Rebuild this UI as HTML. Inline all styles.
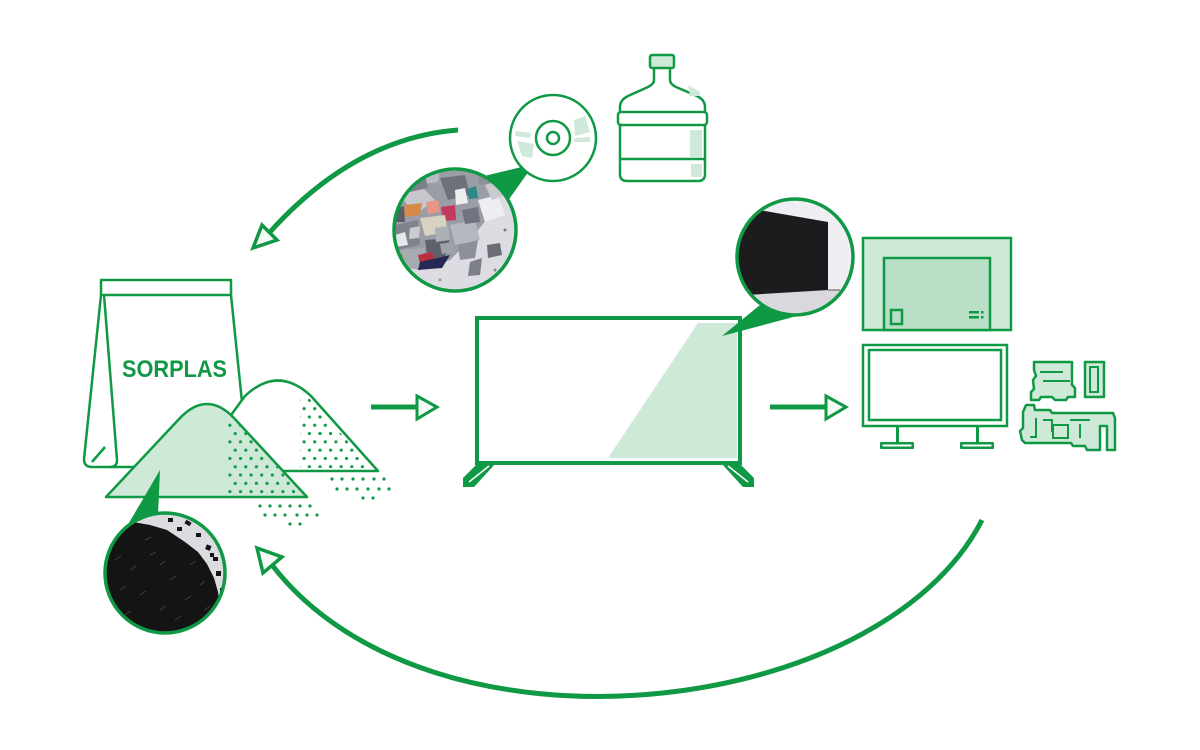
<!DOCTYPE html>
<html><head><meta charset="utf-8"><style>
html,body{margin:0;padding:0;background:#fff;}
svg{display:block;}
</style></head><body>
<svg width="1200" height="750" viewBox="0 0 1200 750" xmlns="http://www.w3.org/2000/svg">
<defs>
<pattern id="dots" x="0" y="0" width="10.6" height="16.6" patternUnits="userSpaceOnUse">
<circle cx="2" cy="2" r="1.6" fill="#109944"/>
<circle cx="7.3" cy="10.3" r="1.6" fill="#109944"/>
</pattern>
<clipPath id="frontClip"><path d="M110,494 L182,417 Q207,392 232,417 L302,494 Z"/></clipPath>
<clipPath id="backClip"><path d="M195,468 L247,398 Q278,369 309,398 L372,468 Z"/></clipPath>
<clipPath id="shredClip"><circle cx="455" cy="230" r="61"/></clipPath>
<clipPath id="pelClip"><circle cx="165" cy="573" r="60"/></clipPath>
<clipPath id="tvClip"><circle cx="795" cy="257" r="58"/></clipPath>
</defs>

<!-- top arrow -->
<path d="M458,130 Q355,138 270,232" fill="none" stroke="#109944" stroke-width="5"/>
<polygon points="253,248 262,225 277,240" fill="#f4faf6" stroke="#109944" stroke-width="3.5" stroke-linejoin="miter"/>

<!-- bottom arc arrow -->
<path d="M982,520 C880,720 430,770 272,565" fill="none" stroke="#109944" stroke-width="5"/>
<polygon points="257,548 282,557 263,573" fill="#f4faf6" stroke="#109944" stroke-width="3.5"/>

<!-- bag -->
<g fill="none" stroke="#109944" stroke-width="2.5" stroke-linejoin="round">
<rect x="101" y="280" width="130" height="15" fill="#fff"/>
<path d="M101,295 L84,459 Q84,467 92,467 L140,467"/>
<path d="M104,295 L117,460 Q117,467 110,467"/>
<path d="M231,295 L242,402"/>
<path d="M92,462 L105,447"/>
</g>
<text x="122" y="377" font-family="'Liberation Sans', sans-serif" font-weight="bold" font-size="24" fill="#109944" textLength="105" lengthAdjust="spacingAndGlyphs">SORPLAS</text>

<!-- back mound -->
<path d="M190,471 L245,396 Q278,365 311,396 L378,471 Z" fill="#fff" stroke="#109944" stroke-width="2.5" stroke-linejoin="round"/>
<g clip-path="url(#backClip)"><rect x="300" y="380" width="90" height="95" fill="url(#dots)"/></g>

<!-- front mound -->
<path d="M106,497 L180,418 Q207,390 234,418 L307,497 Z" fill="#cfe9d8" stroke="#109944" stroke-width="2.5" stroke-linejoin="round"/>
<g clip-path="url(#frontClip)"><rect x="228" y="418" width="90" height="80" fill="url(#dots)"/></g>

<!-- spill dots -->
<g fill="#109944">
<circle cx="332" cy="479" r="1.6"/><circle cx="342" cy="479" r="1.6"/><circle cx="353" cy="479" r="1.6"/><circle cx="363" cy="479" r="1.6"/><circle cx="374" cy="479" r="1.6"/><circle cx="384" cy="479" r="1.6"/>
<circle cx="337" cy="489" r="1.6"/><circle cx="347" cy="489" r="1.6"/><circle cx="357" cy="489" r="1.6"/><circle cx="368" cy="489" r="1.6"/><circle cx="379" cy="489" r="1.6"/><circle cx="389" cy="489" r="1.6"/>
<circle cx="363" cy="498" r="1.6"/><circle cx="373" cy="498" r="1.6"/>
<circle cx="260" cy="506" r="1.6"/><circle cx="270" cy="506" r="1.6"/><circle cx="280" cy="506" r="1.6"/><circle cx="290" cy="506" r="1.6"/><circle cx="300" cy="506" r="1.6"/><circle cx="310" cy="506" r="1.6"/>
<circle cx="265" cy="515" r="1.6"/><circle cx="275" cy="515" r="1.6"/><circle cx="285" cy="515" r="1.6"/><circle cx="297" cy="515" r="1.6"/><circle cx="307" cy="515" r="1.6"/><circle cx="317" cy="515" r="1.6"/>
<circle cx="290" cy="524" r="1.6"/><circle cx="300" cy="524" r="1.6"/>
</g>

<!-- pellets wedge + circle -->
<polygon points="160,470 126,528 158,515" fill="#109944"/>
<g clip-path="url(#pelClip)">
<rect x="100" y="510" width="130" height="130" fill="#dcdce0"/>
<path d="M100,540 L108,536 L118,530 L133,522 L150,525 L167,530 L185,542 L198,552 L207,564 L214,578 L218,592 L221,612 L226,640 L100,640 Z" fill="#141414"/>
<g fill="#141414">
<rect x="135" y="516" width="6" height="4" transform="rotate(20 138 518)"/>
<rect x="168" y="518" width="5" height="4"/>
<rect x="185" y="521" width="6" height="4" transform="rotate(30 188 523)"/>
<rect x="196" y="533" width="5" height="4"/>
<rect x="206" y="545" width="5" height="5" transform="rotate(20 208 547)"/>
<rect x="213" y="557" width="5" height="4"/>
<rect x="216" y="571" width="5" height="5"/>
<rect x="220" y="588" width="5" height="4"/>
<rect x="210" y="553" width="4" height="4"/>
<rect x="177" y="527" width="5" height="4"/>
</g>
<g stroke="#4a4a4e" stroke-width="1" opacity="0.8">
<line x1="115" y1="560" x2="121" y2="556"/><line x1="130" y1="570" x2="136" y2="566"/><line x1="150" y1="555" x2="156" y2="552"/>
<line x1="170" y1="580" x2="176" y2="576"/><line x1="190" y1="565" x2="196" y2="561"/><line x1="140" y1="595" x2="146" y2="591"/>
<line x1="160" y1="610" x2="166" y2="606"/><line x1="185" y1="600" x2="191" y2="596"/><line x1="120" y1="590" x2="126" y2="586"/>
<line x1="200" y1="585" x2="205" y2="581"/><line x1="145" y1="540" x2="151" y2="537"/><line x1="125" y1="615" x2="131" y2="611"/>
<line x1="175" y1="620" x2="181" y2="616"/><line x1="205" y1="610" x2="210" y2="606"/><line x1="160" y1="565" x2="165" y2="561"/>
</g>
</g>
<circle cx="165" cy="573" r="60" fill="none" stroke="#109944" stroke-width="3.5"/>

<!-- shred wedge + circle -->
<polygon points="534,164 480,177 507,202" fill="#109944"/>
<g clip-path="url(#shredClip)">
<rect x="390" y="165" width="130" height="130" fill="#dcdce2"/>
<polygon points="392,200 430,172 480,170 500,185 490,215 470,240 450,260 420,270 395,265" fill="#9a9da5"/>
<polygon points="400,195 420,185 435,200 415,215" fill="#c5c7cd"/>
<polygon points="440,178 465,175 470,195 448,200" fill="#6e7179"/>
<polygon points="420,172 440,170 438,182 422,184" fill="#b8bbc2"/>
<polygon points="480,172 495,176 492,186 478,184" fill="#8d9098"/>
<polygon points="405,205 422,203 420,215 404,217" fill="#d58a48"/>
<polygon points="426,202 438,200 440,212 428,214" fill="#ea9486"/>
<polygon points="441,207 455,205 456,220 443,221" fill="#c23a62"/>
<polygon points="467,189 476,186 478,198 469,199" fill="#2b8a86"/>
<polygon points="420,218 445,215 448,232 425,236" fill="#d8d2c0"/>
<polygon points="395,225 418,220 420,245 398,250" fill="#80838b"/>
<polygon points="450,225 475,220 480,240 455,245" fill="#b5b8bf"/>
<polygon points="478,200 498,195 505,215 485,222" fill="#eeeef2"/>
<polygon points="425,240 450,238 445,258 428,262" fill="#5f626a"/>
<polygon points="400,250 425,248 420,268 402,270" fill="#a8abb2"/>
<polygon points="418,255 432,252 436,262 420,264" fill="#b83040"/>
<polygon points="420,262 450,255 442,268 418,270" fill="#252a55"/>
<polygon points="458,245 478,240 475,258 460,260" fill="#8d9098"/>
<polygon points="487,245 500,243 502,255 488,258" fill="#6a6d76"/>
<polygon points="470,262 482,258 480,275 468,276" fill="#7c7f87"/>
<polygon points="485,185 500,180 505,195 492,200" fill="#c8cad0"/>
<polygon points="408,180 425,175 428,188 410,192" fill="#7d8088"/>
<polygon points="455,190 465,188 468,203 456,205" fill="#eceef2"/>
<polygon points="395,235 405,232 408,245 396,247" fill="#e6e7ea"/>
<polygon points="435,228 448,226 450,240 436,242" fill="#aeb0b7"/>
<polygon points="462,210 478,207 480,222 465,224" fill="#707380"/>
<polygon points="397,208 404,206 405,222 396,222" fill="#5a5d65"/>
<polygon points="410,228 420,226 419,238 409,239" fill="#c9cbd1"/>
<polygon points="440,244 452,242 455,252 442,254" fill="#9fa2a9"/>
<polygon points="395,255 402,254 403,262 396,263" fill="#6f727a"/>
<circle cx="505" cy="230" r="1.5" fill="#777"/><circle cx="495" cy="270" r="1.5" fill="#888"/><circle cx="440" cy="280" r="1.5" fill="#999"/>
</g>
<circle cx="455" cy="230" r="61" fill="none" stroke="#109944" stroke-width="3.5"/>

<!-- CD -->
<circle cx="553" cy="138" r="43" fill="#fff" stroke="#109944" stroke-width="2.5"/>
<g fill="#cfe9d8">
<polygon points="516,131 531,133 530,138 515,136"/>
<polygon points="517,141 534,144 532,158 522,156"/>
<polygon points="574,120 585,116 590,132 575,136"/>
<polygon points="575,138 590,137 590,142 574,142"/>
</g>
<circle cx="553" cy="138" r="17" fill="none" stroke="#109944" stroke-width="2.5"/>
<circle cx="553" cy="138" r="6" fill="none" stroke="#109944" stroke-width="2.5"/>

<!-- bottle -->
<g fill="none" stroke="#109944" stroke-width="2.5" stroke-linejoin="round">
<rect x="650" y="55" width="24" height="13" rx="2" fill="#cfe9d8"/>
<path d="M654,68 L654,80 Q654,84 648,87 L628,96 Q620,100 620,107 L620,112 M670,68 L670,80 Q670,84 676,87 L697,96 Q705,100 705,107 L705,112"/>
<rect x="618" y="112" width="89" height="13" rx="3"/>
<path d="M620,125 L620,159 M705,125 L705,159"/>
<path d="M620,159 L705,159 L705,174 Q705,181 698,181 L627,181 Q620,181 620,174 Z"/>
</g>
<g fill="#cfe9d8">
<polygon points="688,85 700,92 700,96 690,96"/>
<rect x="690" y="130" width="12" height="27"/>
<rect x="691" y="164" width="11" height="13"/>
</g>

<!-- arrow 1 -->
<line x1="371" y1="407" x2="418" y2="407" stroke="#109944" stroke-width="5"/>
<polygon points="417,396 437,407 417,419" fill="#f4faf6" stroke="#109944" stroke-width="3"/>

<!-- TV -->
<rect x="477" y="318" width="263" height="145" fill="#fff" stroke="#109944" stroke-width="4"/>
<polygon points="698,323 737,323 737,458 608,458" fill="#cfe9d8"/>
<polygon points="478,463 496,463 474,487 463,487 463,478" fill="#109944"/>
<line x1="489" y1="466" x2="469" y2="482" stroke="#fff" stroke-width="1.5"/>
<polygon points="739,463 721,463 743,487 754,487 754,478" fill="#109944"/>
<line x1="728" y1="466" x2="748" y2="482" stroke="#fff" stroke-width="1.5"/>

<!-- TV photo wedge + circle -->
<polygon points="722,336 760,305 797,316" fill="#109944"/>
<g clip-path="url(#tvClip)">
<rect x="735" y="195" width="125" height="125" fill="#eeeef3"/>
<rect x="735" y="290" width="125" height="30" fill="#d8d8de"/>
<polygon points="730,205 828,222 828,290 730,296" fill="#1c1c1e"/>
<line x1="828" y1="290" x2="840" y2="290" stroke="#555" stroke-width="1"/>
</g>
<circle cx="795" cy="257" r="58" fill="none" stroke="#109944" stroke-width="3.5"/>

<!-- arrow 2 -->
<line x1="770" y1="407" x2="826" y2="407" stroke="#109944" stroke-width="5"/>
<polygon points="826,396 846,407 826,419" fill="#f4faf6" stroke="#109944" stroke-width="3"/>

<!-- TV back -->
<g stroke="#109944" stroke-width="2.5">
<rect x="863" y="238" width="148" height="92" fill="#cfe9d8"/>
<rect x="884" y="258" width="106" height="72" fill="#b9e0c6"/>
<rect x="891" y="310" width="11" height="14" fill="none"/>
</g>
<g fill="#109944">
<rect x="969" y="311" width="10" height="2.5"/><rect x="969" y="316" width="10" height="2.5"/>
<rect x="981" y="311" width="2.5" height="2.5"/><rect x="981" y="316" width="2.5" height="2.5"/>
</g>

<!-- monitor -->
<g fill="none" stroke="#109944" stroke-width="2.5">
<rect x="863" y="345" width="144" height="81"/>
<rect x="869" y="350" width="132" height="70"/>
</g>
<g fill="#109944">
<rect x="896" y="426" width="3" height="17"/>
<rect x="880" y="442" width="34" height="7" rx="1"/>
<rect x="976" y="426" width="3" height="17"/>
<rect x="960" y="442" width="34" height="7" rx="1"/>
</g>
<g fill="#fff">
<rect x="882.5" y="444.5" width="29" height="2"/>
<rect x="962.5" y="444.5" width="29" height="2"/>
</g>

<!-- circuit boards -->
<g stroke="#109944" stroke-width="2.5" fill="#cfe9d8" stroke-linejoin="round">
<path d="M1034,362 L1072,362 L1072,385 L1075,388 L1075,397 L1068,397 L1066,400 L1055,400 L1052,397 L1041,397 L1039,400 L1031,400 L1031,392 L1034,389 L1033,380 L1036,376 L1034,370 Z"/>
<rect x="1085" y="362" width="19" height="35"/>
<path d="M1026,405 L1034,405 L1035,410 L1050,410 L1052,413 L1113,413 L1115,418 L1115,450 L1107,450 L1107,426 L1100,426 L1100,450 L1087,450 L1085,446 L1073,446 L1071,443 L1025,443 L1022,440 L1020,431 L1023,428 L1023,412 Z"/>
</g>
<g stroke="#109944" stroke-width="2" fill="none">
<line x1="1040" y1="372" x2="1063" y2="372"/>
<line x1="1043" y1="381" x2="1070" y2="381"/>
<rect x="1090" y="367" width="8" height="25"/>
<rect x="1053" y="425" width="15" height="13"/>
<path d="M1036,418 L1036,437 L1030,437"/>
<path d="M1043,420 L1052,420 L1052,432"/>
<line x1="1070" y1="420" x2="1090" y2="420"/>
<path d="M1080,424 L1080,438"/>
</g>
</svg>
</body></html>
